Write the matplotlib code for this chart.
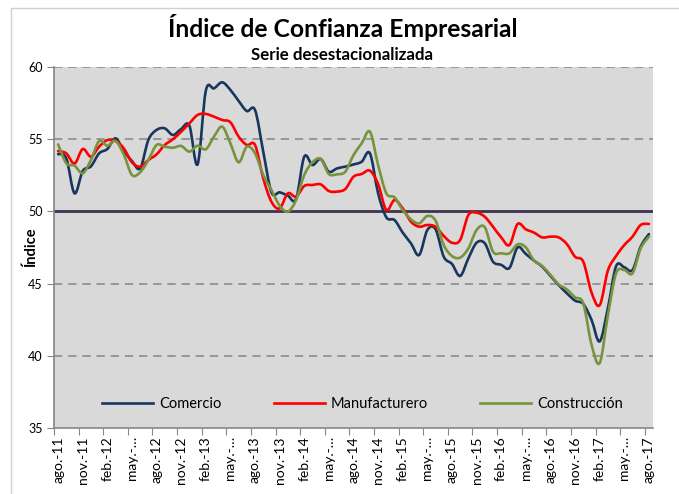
import matplotlib
matplotlib.use("Agg")
import matplotlib.pyplot as plt
import numpy as np
from matplotlib.path import Path
from matplotlib.patches import PathPatch, Rectangle
from matplotlib.lines import Line2D

plt.rcParams['font.family'] = ['Lato', 'DejaVu Sans']

# monthly values, ago-11 .. ago-17
comercio = [53.97, 53.67, 51.25, 52.8, 53.12, 54.02, 54.32, 55.06, 54.18, 53.49,
            52.98, 54.95, 55.64, 55.75, 55.29, 55.71, 55.94, 53.26, 58.35, 58.52,
            58.94, 58.41, 57.65, 56.95, 57.02, 54.14, 51.32, 51.32, 51.09, 50.86,
            53.79, 53.21, 53.63, 52.75, 52.98, 53.1, 53.25, 53.44, 54.02, 51.25,
            49.59, 49.4, 48.53, 47.79, 46.98, 48.71, 48.76, 46.86, 46.36, 45.53,
            46.75, 47.83, 47.79, 46.52, 46.3, 46.08, 47.51, 47.05, 46.59, 46.17,
            45.53, 44.9, 44.33, 43.82, 43.59, 42.5, 41.0, 43.3, 46.2, 46.13,
            45.94, 47.56, 48.43]
manufacturero = [54.18, 54.02, 53.31, 54.32, 53.79, 54.48, 54.94, 54.88, 54.37, 53.4,
                 53.1, 53.56, 53.95, 54.6, 55.0, 55.52, 56.1, 56.68, 56.75, 56.56,
                 56.33, 56.17, 55.18, 54.6, 54.6, 52.29, 50.67, 50.21, 51.25, 51.02,
                 51.76, 51.83, 51.87, 51.41, 51.37, 51.55, 52.4, 52.59, 52.82, 51.9,
                 50.1, 50.79, 50.21, 49.29, 48.94, 49.06, 48.94, 48.3, 47.83, 48.02,
                 49.75, 49.91, 49.63, 48.94, 48.2, 47.67, 49.13, 48.76, 48.53, 48.2,
                 48.25, 48.2, 47.74, 46.86, 46.52, 44.4, 43.5, 45.9, 46.91, 47.67,
                 48.25, 49.06, 49.13]
construccion = [54.64, 53.33, 53.17, 52.64, 53.56, 54.87, 54.55, 54.87, 53.95, 52.52,
                52.71, 53.56, 54.6, 54.48, 54.41, 54.53, 54.14, 54.55, 54.3, 55.18,
                55.87, 54.71, 53.4, 54.48, 54.02, 52.52, 51.48, 50.4, 49.98, 50.79,
                52.52, 53.4, 53.63, 52.59, 52.57, 52.75, 53.9, 54.71, 55.52, 53.21,
                51.25, 50.97, 50.1, 49.45, 49.17, 49.68, 49.36, 47.67, 46.91, 46.8,
                47.44, 48.71, 48.9, 47.21, 47.1, 47.1, 47.72, 47.51, 46.59, 46.22,
                45.6, 44.95, 44.6, 44.05, 43.63, 40.8, 39.5, 42.8, 45.71, 45.94,
                45.71, 47.44, 48.25]
tick_labels = ['ago.-11', 'nov.-11', 'feb.-12', 'may.-…', 'ago.-12', 'nov.-12', 'feb.-13',
               'may.-…', 'ago.-13', 'nov.-13', 'feb.-14', 'may.-…', 'ago.-14', 'nov.-14',
               'feb.-15', 'may.-…', 'ago.-15', 'nov.-15', 'feb.-16', 'may.-…', 'ago.-16',
               'nov.-16', 'feb.-17', 'may.-…', 'ago.-17']
series_names = ['Comercio', 'Manufacturero', 'Construcción']
colors = ['#17375E', '#FF0000', '#77933C']


def smooth_path(y):
    # excel style smoothed line: cubic bezier through every point
    x = np.arange(len(y), dtype=float)
    pts = np.column_stack([x, np.asarray(y, dtype=float)])
    verts = [pts[0]]
    codes = [Path.MOVETO]
    n = len(pts)
    for i in range(n - 1):
        p0 = pts[max(i - 1, 0)]
        p1 = pts[i]
        p2 = pts[i + 1]
        p3 = pts[min(i + 2, n - 1)]
        verts += [p1 + (p2 - p0) / 6, p2 - (p3 - p1) / 6, p2]
        codes += [Path.CURVE4] * 3
    return Path(verts, codes)


fig = plt.figure(figsize=(6.79, 4.94), dpi=100)
fig.patches.append(Rectangle((11 / 679, -0.01), 1.0, 1 - 8 / 494 + 0.01, transform=fig.transFigure,
                             facecolor='white', edgecolor='#D0D0D0', lw=1.0, zorder=-10))
ax = fig.add_axes([54 / 679, 1 - 428 / 494, 599 / 679, 361 / 494])
ax.set_facecolor('#D9D9D9')

for v in [40, 45, 55, 60]:
    ax.axhline(v, color='#8C8C8C', lw=1.2, ls=(0, (5, 3.5)), zorder=1)
ax.axhline(50, color='#403152', lw=2.0, zorder=2)

for vals, c in zip([comercio, manufacturero, construccion], colors):
    ax.add_patch(PathPatch(smooth_path(vals), fill=False, edgecolor=c, lw=1.9,
                           capstyle='round', joinstyle='round', zorder=3))

ax.set_xlim(-0.5, len(comercio) - 0.5)
ax.set_ylim(35, 60)
ax.set_yticks([35, 40, 45, 50, 55, 60])
ax.tick_params(axis='y', direction='out', length=5, color='#868686', labelsize=9, pad=3)

ax.set_xticks(np.arange(-0.5, len(comercio), 3))
ax.set_xticklabels([])
ax.set_xticks(np.arange(0, len(comercio), 3), minor=True)
ax.set_xticklabels(tick_labels, minor=True, rotation=90, fontsize=10)
ax.tick_params(axis='x', which='major', direction='out', length=5, color='#868686')
ax.tick_params(axis='x', which='minor', length=0, pad=6)

for s in ['top', 'right']:
    ax.spines[s].set_visible(False)
for s in ['left', 'bottom']:
    ax.spines[s].set_color('#868686')
    ax.spines[s].set_linewidth(1.2)

ax.set_ylabel('Índice', fontsize=10.5, fontweight='bold')
ax.yaxis.set_label_coords(-16 / 599, 0.5)

handles = [Line2D([], [], color=c, lw=1.9) for c in colors]
ax.legend(handles, series_names, loc='center', bbox_to_anchor=(0.515, 0.066), ncol=3,
          frameon=False, fontsize=10.5, handlelength=3.5, handletextpad=0.4, columnspacing=3.6)

fig.text(0.505, 1 - 37 / 494, 'Índice de Confianza Empresarial', ha='center', va='baseline',
         fontsize=17.7, fontweight='bold')
fig.text(0.503, 1 - 60 / 494, 'Serie desestacionalizada', ha='center', va='baseline',
         fontsize=12.2, fontweight='bold')

fig.savefig('out.png', dpi=100)
